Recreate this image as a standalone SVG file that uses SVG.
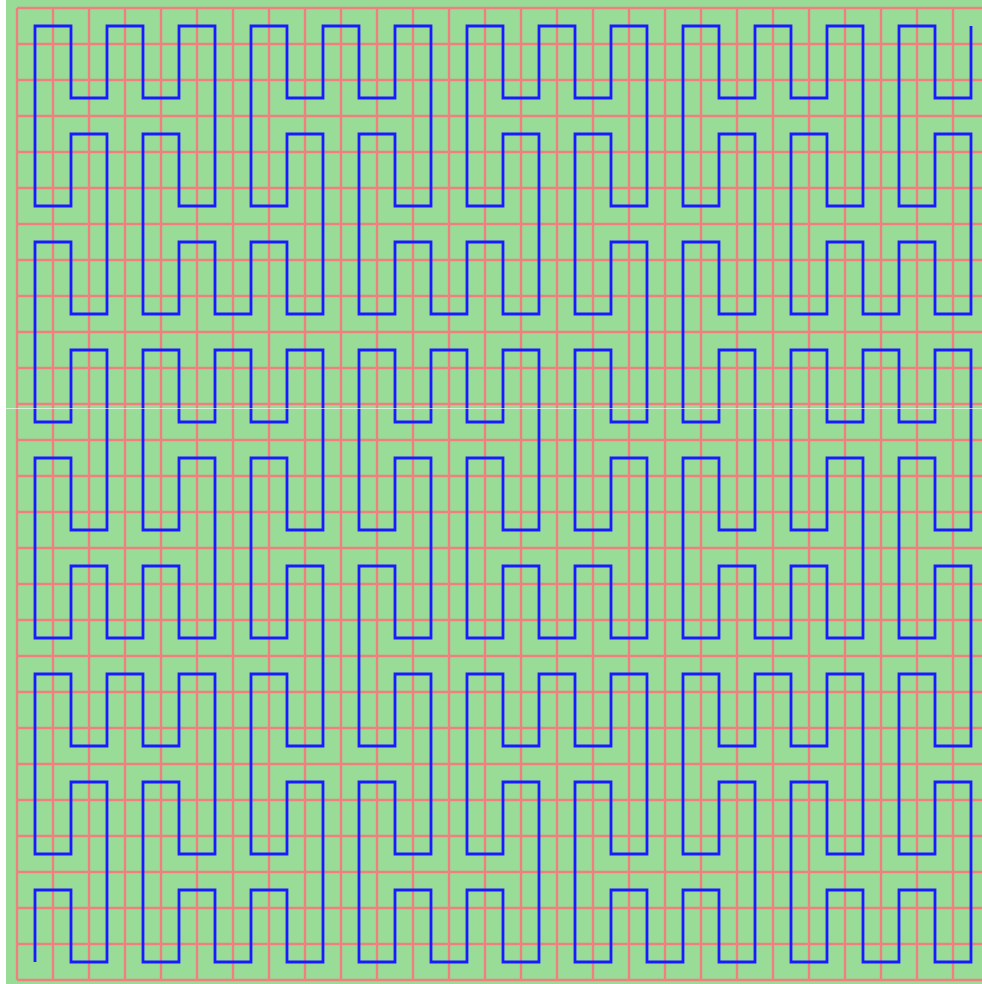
<svg xmlns="http://www.w3.org/2000/svg" width="982" height="984" viewBox="0 0 982 984">
<style>
.bg{fill:#98dc98}
.grid{fill:none;stroke:#f08080;stroke-width:2.4}
.curve{fill:none;stroke:#1a1aff;stroke-width:2.8;stroke-linejoin:miter}
.seam{stroke:#ffffff;stroke-opacity:0.6;stroke-width:1}
</style>
<rect width="982" height="984" fill="#ffffff"/>
<rect class="bg" x="6" y="0" width="976" height="984"/>
<g id="grid">
<path class="grid" d="M17,8V980M53,8V980M89,8V980M125,8V980M161,8V980M197,8V980M233,8V980M269,8V980M305,8V980M341,8V980M377,8V980M413,8V980M449,8V980M485,8V980M521,8V980M557,8V980M593,8V980M629,8V980M665,8V980M701,8V980M737,8V980M773,8V980M809,8V980M845,8V980M881,8V980M917,8V980M953,8V980
M17,8H982M17,44H982M17,80H982M17,116H982M17,152H982M17,188H982M17,224H982M17,260H982M17,296H982M17,332H982M17,368H982M17,404H982M17,440H982M17,476H982M17,512H982M17,548H982M17,584H982M17,620H982M17,656H982M17,692H982M17,728H982M17,764H982M17,800H982M17,836H982M17,872H982M17,908H982M17,944H982M17,980H982"/>
</g>
<g id="curve">
<path class="curve" d="M35,962
v-72h36v72h36v-72 v-36 v-72h-36v72h-36v-72 v-36 v-72h36v72h36v-72 h36 v72h36v-72h36v72 v36 v72h-36v-72h-36v72 v36 v72h36v-72h36v72 h36 v-72h36v72h36v-72 v-36 v-72h-36v72h-36v-72 v-36 v-72h36v72h36v-72
v-36
v-72h-36v72h-36v-72 v-36 v-72h36v72h36v-72 v-36 v-72h-36v72h-36v-72 h-36 v72h-36v-72h-36v72 v36 v72h36v-72h36v72 v36 v72h-36v-72h-36v72 h-36 v-72h-36v72h-36v-72 v-36 v-72h36v72h36v-72 v-36 v-72h-36v72h-36v-72
v-36
v-72h36v72h36v-72 v-36 v-72h-36v72h-36v-72 v-36 v-72h36v72h36v-72 h36 v72h36v-72h36v72 v36 v72h-36v-72h-36v72 v36 v72h36v-72h36v72 h36 v-72h36v72h36v-72 v-36 v-72h-36v72h-36v-72 v-36 v-72h36v72h36v-72
h36
v72h36v-72h36v72 v36 v72h-36v-72h-36v72 v36 v72h36v-72h36v72 h36 v-72h36v72h36v-72 v-36 v-72h-36v72h-36v-72 v-36 v-72h36v72h36v-72 h36 v72h36v-72h36v72 v36 v72h-36v-72h-36v72 v36 v72h36v-72h36v72
v36
v72h-36v-72h-36v72 v36 v72h36v-72h36v72 v36 v72h-36v-72h-36v72 h-36 v-72h-36v72h-36v-72 v-36 v-72h36v72h36v-72 v-36 v-72h-36v72h-36v-72 h-36 v72h-36v-72h-36v72 v36 v72h36v-72h36v72 v36 v72h-36v-72h-36v72
v36
v72h36v-72h36v72 v36 v72h-36v-72h-36v72 v36 v72h36v-72h36v72 h36 v-72h36v72h36v-72 v-36 v-72h-36v72h-36v-72 v-36 v-72h36v72h36v-72 h36 v72h36v-72h36v72 v36 v72h-36v-72h-36v72 v36 v72h36v-72h36v72
h36
v-72h36v72h36v-72 v-36 v-72h-36v72h-36v-72 v-36 v-72h36v72h36v-72 h36 v72h36v-72h36v72 v36 v72h-36v-72h-36v72 v36 v72h36v-72h36v72 h36 v-72h36v72h36v-72 v-36 v-72h-36v72h-36v-72 v-36 v-72h36v72h36v-72
v-36
v-72h-36v72h-36v-72 v-36 v-72h36v72h36v-72 v-36 v-72h-36v72h-36v-72 h-36 v72h-36v-72h-36v72 v36 v72h36v-72h36v72 v36 v72h-36v-72h-36v72 h-36 v-72h-36v72h-36v-72 v-36 v-72h36v72h36v-72 v-36 v-72h-36v72h-36v-72
v-36
v-72h36v72h36v-72 v-36 v-72h-36v72h-36v-72 v-36 v-72h36v72h36v-72 h36 v72h36v-72h36v72 v36 v72h-36v-72h-36v72 v36 v72h36v-72h36v72 h36 v-72h36v72h36v-72 v-36 v-72h-36v72h-36v-72 v-36 v-72h36v72h36v-72"/>
</g>
<line class="seam" x1="6" y1="408.5" x2="982" y2="408.5"/>
</svg>
